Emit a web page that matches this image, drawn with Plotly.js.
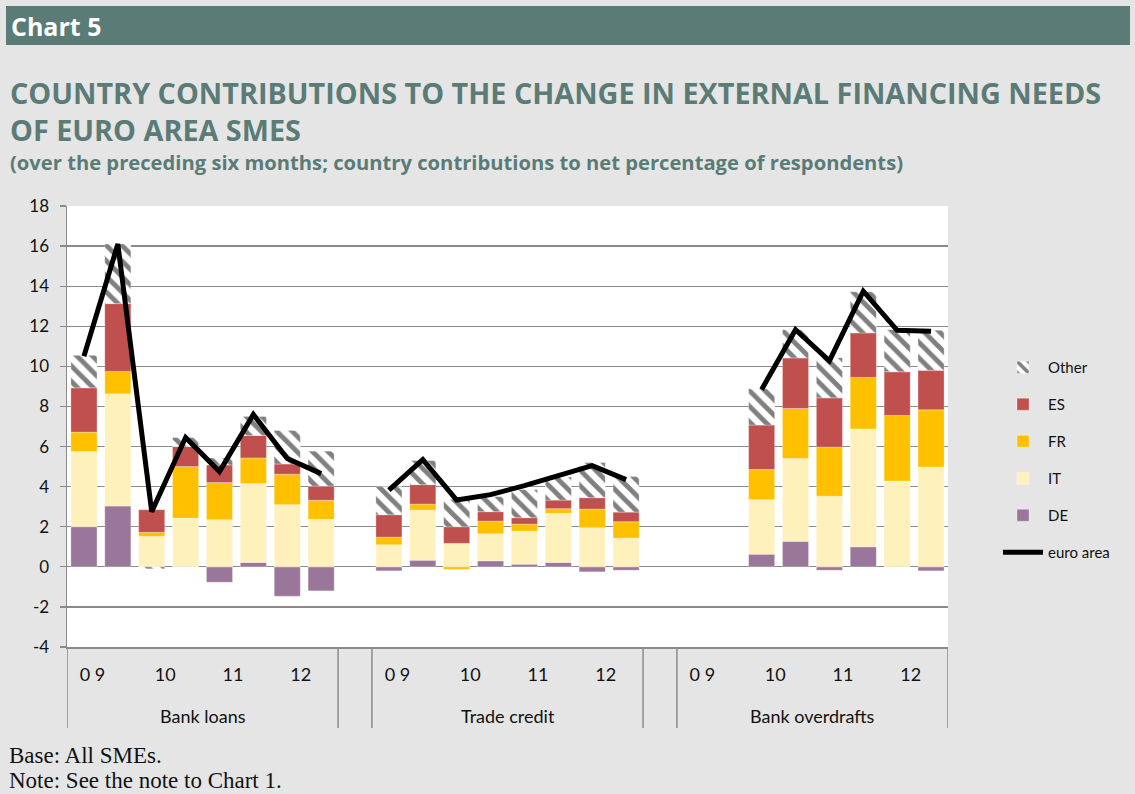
<!DOCTYPE html>
<html>
<head>
<meta charset="utf-8">
<script src="https://cdn.plot.ly/plotly-3.0.1.min.js"></script>
<style>
html,body{margin:0;padding:0;background:#e5e5e5;}
#chart{width:1135px;height:794px;}
</style>
</head>
<body>
<div id="chart"></div>
<script>
// ---- data (country contributions, net % of respondents) ----
// each array: 8 half-years (2009H1..2012H2) for Bank loans, Trade credit, Bank overdrafts
const groups = ["Bank loans", "Trade credit", "Bank overdrafts"];
const yearLabels = ["0 9", "10", "11", "12"];
const yTicks = [-4, -2, 0, 2, 4, 6, 8, 10, 12, 14, 16, 18];
const DE = [2.0, 3.03, 0, 0, -0.77, 0.22, -1.47, -1.2,
            -0.2, 0.33, 0, 0.3, 0.13, 0.22, -0.25, -0.17,
            null, null, 0.63, 1.27, -0.17, 1.0, 0, -0.2];
const IT = [3.75, 5.6, 1.52, 2.43, 2.35, 3.93, 3.1, 2.37,
            1.1, 2.5, 1.17, 1.35, 1.65, 2.45, 1.95, 1.43,
            null, null, 2.72, 4.13, 3.52, 5.88, 4.28, 4.98];
const FR = [0.97, 1.12, 0.2, 2.57, 1.85, 1.28, 1.52, 0.95,
            0.38, 0.3, -0.13, 0.63, 0.35, 0.23, 0.93, 0.82,
            null, null, 1.5, 2.5, 2.45, 2.57, 3.27, 2.85];
const ES = [2.21, 3.38, 1.13, 1.0, 0.88, 1.12, 0.51, 0.71,
            1.12, 0.97, 0.83, 0.47, 0.32, 0.43, 0.57, 0.48,
            null, null, 2.22, 2.52, 2.46, 2.22, 2.18, 1.97];
const OTHER = [1.62, 2.97, -0.1, 0.45, 0.35, 0.95, 1.67, 1.74,
               1.4, 1.2, 1.37, 0.75, 1.4, 1.15, 1.75, 1.77,
               null, null, 1.81, 1.41, 2.0, 2.05, 2.1, 2.0];
const EURO = [10.5, 16.1, 2.75, 6.45, 4.75, 7.6, 5.4, 4.65,
              3.83, 5.35, 3.33, 3.6, 4.05, 4.55, 5.05, 4.35,
              null, null, 8.85, 11.83, 10.27, 13.75, 11.8, 11.75];

// ---- positions: 8 slots per group, one empty slot between groups ----
const PER = 8, STEP = 9;
const xs = [];
for (let g = 0; g < groups.length; g++) for (let i = 0; i < PER; i++) xs.push(g * STEP + i);

// line with breaks between groups
const lx = [], ly = [];
for (let g = 0; g < groups.length; g++) {
  for (let i = 0; i < PER; i++) { lx.push(g * STEP + i); ly.push(EURO[g * PER + i]); }
  if (g < groups.length - 1) { lx.push(g * STEP + PER); ly.push(null); }
}

const font = "Lato, 'Open Sans', sans-serif";
const tfont = "'Open Sans', Lato, sans-serif";
const BW = 0.77;
function barTrace(name, y, color, rank, extra) {
  const t = {
    type: "bar", name: name, x: xs, y: y, width: BW,
    marker: {color: color, line: {color: "rgba(255,255,255,0.6)", width: 0.5}},
    legendrank: rank, legendgroup: name, hoverinfo: "name+y"
  };
  if (extra) Object.assign(t.marker, extra);
  return t;
}

const traces = [
  barTrace("DE", DE, "#9b769b", 5),
  barTrace("IT", IT, "#fff1bc", 4),
  barTrace("FR", FR, "#ffc000", 3),
  barTrace("ES", ES, "#c0504d", 2),
  barTrace("Other", OTHER, "#ffffff", 1,
    {pattern: {shape: "\\", fgcolor: "#808080", bgcolor: "#ffffff", size: 11, solidity: 0.45}}),
  {type: "scatter", mode: "lines", name: "euro area", x: lx, y: ly,
   line: {color: "#000000", width: 5}, connectgaps: false,
   legendrank: 6, legendgroup: "euro area"}
];

// year tick positions (midpoint of each year's two half-years)
const tickvals = [], ticktext = [];
for (let g = 0; g < groups.length; g++) {
  for (let k = 0; k < yearLabels.length; k++) {
    tickvals.push(g * STEP + 2 * k + (k === 0 ? 0.25 : 0.4));
    ticktext.push(yearLabels[k]);
  }
}

const L = 67, R = 948, T = 206, B = 647;
const PW = R - L, PH = B - T;
const px = v => (v - L) / PW;
const py = v => (B - v) / PH;
const teal = "#5b7b76";

const shapes = [
  {type: "rect", xref: "paper", yref: "paper", x0: px(6), x1: px(1130), y0: py(45), y1: py(6),
   fillcolor: teal, line: {width: 0}, layer: "below"}
];
// category separators below the axis
const seps = [-0.5];
for (let g = 0; g < groups.length; g++) {
  seps.push(g * STEP + PER - 0.5);
  if (g < groups.length - 1) seps.push(g * STEP + PER + 0.5);
}
seps.forEach(s => shapes.push({type: "line", xref: "x", yref: "paper", x0: s, x1: s,
  y0: 0, y1: py(728), line: {color: "#8a8a8a", width: 1.5}}));

const serif = "'Liberation Serif', 'Times New Roman', serif";
const annotations = [
  {text: "<b>Chart 5</b>", xref: "paper", yref: "paper", x: px(9), y: py(26),
   xanchor: "left", yanchor: "middle", showarrow: false, font: {family: tfont, size: 25, color: "#ffffff"}},
  {text: "<b>COUNTRY CONTRIBUTIONS TO THE CHANGE IN EXTERNAL FINANCING NEEDS<br>OF EURO AREA SMES</b>",
   xref: "paper", yref: "paper", x: px(8), y: py(111), xanchor: "left", yanchor: "middle", align: "left",
   showarrow: false, font: {family: tfont, size: 28.8, color: teal}},
  {text: "<b>(over the preceding six months; country contributions to net percentage of respondents)</b>",
   xref: "paper", yref: "paper", x: px(8), y: py(162), xanchor: "left", yanchor: "middle", showarrow: false,
   font: {family: tfont, size: 20.2, color: teal}},
  {text: "Base: All SMEs.", xref: "paper", yref: "paper", x: px(7), y: py(755), xanchor: "left", yanchor: "middle",
   showarrow: false, font: {family: serif, size: 23, color: "#111"}},
  {text: "Note: See the note to Chart 1.", xref: "paper", yref: "paper", x: px(7), y: py(780), xanchor: "left", yanchor: "middle",
   showarrow: false, font: {family: serif, size: 23, color: "#111"}}
];
groups.forEach((g, i) => annotations.push({
  text: g, xref: "x", yref: "paper", x: i * STEP + (PER - 1) / 2, y: py(716),
  xanchor: "center", yanchor: "middle", showarrow: false, font: {family: font, size: 18, color: "#111"}
}));

const layout = {
  width: 1135, height: 794,
  paper_bgcolor: "#e5e5e5", plot_bgcolor: "#ffffff",
  margin: {l: L, r: 1135 - R, t: T, b: 794 - B, pad: 0},
  barmode: "relative", bargap: 0,
  showlegend: true,
  legend: {x: px(998), y: py(351), xanchor: "left", yanchor: "top", bgcolor: "rgba(0,0,0,0)",
           traceorder: "grouped", tracegroupgap: 14.5, itemwidth: 40,
           font: {family: font, size: 15, color: "#111"}},
  xaxis: {range: [-0.5, 25.5], showgrid: false, zeroline: false, showline: true,
          linecolor: "#8a8a8a", linewidth: 1.5, tickmode: "array", tickvals: tickvals, ticktext: ticktext,
          ticks: "", ticklabelstandoff: 11, tickfont: {family: font, size: 18, color: "#111"}, fixedrange: true},
  yaxis: {range: [-4, 18], tickmode: "array", tickvals: yTicks, ticktext: yTicks.map(String),
          showgrid: true, gridcolor: "#8a8a8a", gridwidth: 1.3,
          zeroline: false, showline: true, linecolor: "#8a8a8a", linewidth: 1.5,
          ticks: "outside", ticklen: 6, tickcolor: "#8a8a8a", tickwidth: 1.3, ticklabelstandoff: 7,
          tickfont: {family: font, size: 17, color: "#111"}, fixedrange: true},
  shapes: shapes,
  annotations: annotations
};

Plotly.newPlot("chart", traces, layout, {displayModeBar: false, staticPlot: true});
</script>
</body>
</html>
